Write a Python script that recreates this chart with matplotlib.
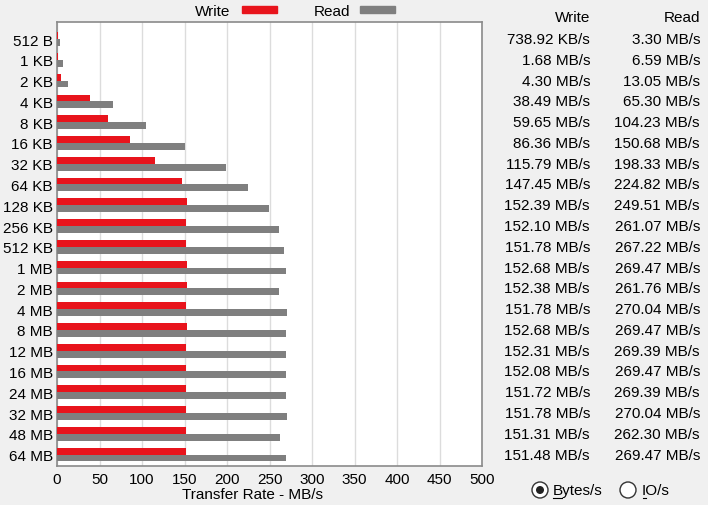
import numpy as np
import matplotlib.pyplot as plt
import matplotlib.transforms as mtransforms
from matplotlib.patches import Rectangle, Circle
from matplotlib.lines import Line2D

sizes = ['512 B', '1 KB', '2 KB', '4 KB', '8 KB', '16 KB', '32 KB', '64 KB',
         '128 KB', '256 KB', '512 KB', '1 MB', '2 MB', '4 MB', '8 MB',
         '12 MB', '16 MB', '24 MB', '32 MB', '48 MB', '64 MB']
write = [0.72, 1.68, 4.30, 38.49, 59.65, 86.36, 115.79, 147.45, 152.39, 152.10,
         151.78, 152.68, 152.38, 151.78, 152.68, 152.31, 152.08, 151.72, 151.78,
         151.31, 151.48]
read = [3.30, 6.59, 13.05, 65.30, 104.23, 150.68, 198.33, 224.82, 249.51, 261.07,
        267.22, 269.47, 261.76, 270.04, 269.47, 269.39, 269.47, 269.39, 270.04,
        262.30, 269.47]
write_txt = ['738.92 KB/s', '1.68 MB/s', '4.30 MB/s', '38.49 MB/s', '59.65 MB/s',
             '86.36 MB/s', '115.79 MB/s', '147.45 MB/s', '152.39 MB/s', '152.10 MB/s',
             '151.78 MB/s', '152.68 MB/s', '152.38 MB/s', '151.78 MB/s', '152.68 MB/s',
             '152.31 MB/s', '152.08 MB/s', '151.72 MB/s', '151.78 MB/s', '151.31 MB/s',
             '151.48 MB/s']
read_txt = ['3.30 MB/s', '6.59 MB/s', '13.05 MB/s', '65.30 MB/s', '104.23 MB/s',
            '150.68 MB/s', '198.33 MB/s', '224.82 MB/s', '249.51 MB/s', '261.07 MB/s',
            '267.22 MB/s', '269.47 MB/s', '261.76 MB/s', '270.04 MB/s', '269.47 MB/s',
            '269.39 MB/s', '269.47 MB/s', '269.39 MB/s', '270.04 MB/s', '262.30 MB/s',
            '269.47 MB/s']

W, H = 708, 506
RED = '#e8141c'
GRAY = '#7f7f7f'
BG = '#f0f0f0'
FS = 11

plt.rcParams['font.family'] = ['Liberation Sans', 'DejaVu Sans']

fig = plt.figure(figsize=(W / 100, H / 100), dpi=100, facecolor=BG)

def px(x0, y0, x1, y1):
    return [x0 / W, 1 - y1 / H, (x1 - x0) / W, (y1 - y0) / H]

ax = fig.add_axes(px(57, 23, 482, 467))
ax.set_facecolor('white')

y = np.arange(len(sizes))
bh = 0.33
ax.barh(y - bh / 2, write, height=bh, color=RED, zorder=3)
ax.barh(y + bh / 2, read, height=bh, color=GRAY, zorder=3)

ax.set_xlim(0, 500)
ax.set_ylim(20.55, -0.82)
ax.set_xticks(np.arange(0, 501, 50))
ax.set_yticks(y)
ax.set_yticklabels(sizes)
ax.tick_params(length=0, labelsize=FS, colors='black')
ax.tick_params(axis='x', pad=4)
ax.tick_params(axis='y', pad=3)
ax.grid(axis='x', color='#dcdcdc', lw=1, zorder=0)
for s in ax.spines.values():
    s.set_color('#8a8a8a')
    s.set_linewidth(1.2)
ax.set_xlabel('Transfer Rate - MB/s', fontsize=FS)
ax.xaxis.set_label_coords(0.461, -0.047)

# legend at top
fig.text(230 / W, 1 - 12 / H, 'Write', ha='right', va='center', fontsize=FS)
fig.patches.append(Rectangle((242 / W, 1 - 14 / H), 35 / W, 7 / H,
                             transform=fig.transFigure, color=RED))
fig.text(350 / W, 1 - 12 / H, 'Read', ha='right', va='center', fontsize=FS)
fig.patches.append(Rectangle((360 / W, 1 - 14 / H), 35 / W, 7 / H,
                             transform=fig.transFigure, color=GRAY))

# value table on the right
tr = mtransforms.blended_transform_factory(fig.transFigure, ax.transData)
fig.text(590 / W, 1 - 18 / H, 'Write', ha='right', va='center', fontsize=FS)
fig.text(700 / W, 1 - 18 / H, 'Read', ha='right', va='center', fontsize=FS)
for i in range(len(sizes)):
    fig.text(590 / W, i, write_txt[i], ha='right', va='center', fontsize=FS, transform=tr)
    fig.text(700 / W, i, read_txt[i], ha='right', va='center', fontsize=FS, transform=tr)

# radio buttons (pixel coords via inches)
ryp = 491
for cx, filled in [(540, True), (628, False)]:
    fig.patches.append(Circle((cx / 100, (H - ryp) / 100), 8 / 100,
                              transform=fig.dpi_scale_trans,
                              facecolor='white', edgecolor='#333333', lw=1))
    if filled:
        fig.patches.append(Circle((cx / 100, (H - ryp) / 100), 4 / 100,
                                  transform=fig.dpi_scale_trans,
                                  facecolor='#222222', edgecolor='none'))
ry = 1 - ryp / H
fig.text(553 / W, ry, 'Bytes/s', ha='left', va='center', fontsize=FS)
fig.text(642 / W, ry, 'IO/s', ha='left', va='center', fontsize=FS)
uy = 1 - 499 / H
fig.lines.append(Line2D([553 / W, 562 / W], [uy, uy], transform=fig.transFigure,
                        color='black', lw=0.8))
fig.lines.append(Line2D([643 / W, 646 / W], [uy, uy], transform=fig.transFigure,
                        color='black', lw=0.8))

fig.savefig('out.png', dpi=100, facecolor=BG)
